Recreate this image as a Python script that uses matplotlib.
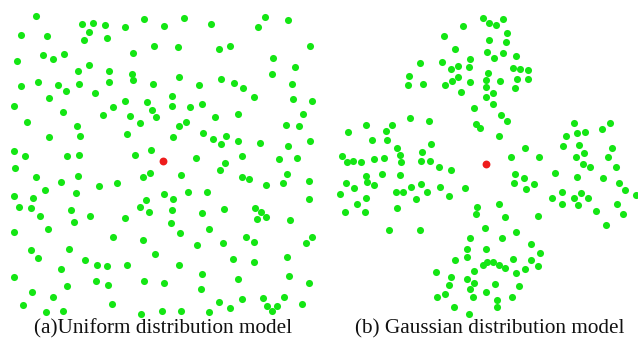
import matplotlib.pyplot as plt

# node positions (image pixels, y downwards)
uniform_x = [36, 82, 93, 105, 125, 144, 164, 21, 47, 89, 84, 107, 154, 133, 17, 43, 53, 64, 89, 78,
             109, 132, 133, 153, 21, 38, 58, 66, 79, 109, 95, 49, 14, 63, 103, 113, 125, 147, 152, 156,
             130, 140, 27, 77, 49, 80, 127, 14, 25, 67, 79, 135, 151,
             184, 211, 258, 265, 288, 178, 219, 230, 310, 273, 295, 179, 221, 234, 243, 199, 272, 292,
             172, 172, 190, 202, 254, 293, 312, 215, 238, 303, 179, 186, 286, 299, 173, 203, 213, 226,
             221, 238, 260, 288, 310, 196, 225, 242, 279, 297,
             15, 36, 61, 78, 99, 117, 143, 150, 45, 76, 14, 33, 164, 146, 19, 31, 71, 140, 149, 40,
             90, 74, 125, 48, 14, 113, 143, 31, 69, 38, 85, 155, 97, 107, 127, 61, 14, 96, 108, 67,
             144, 164, 32, 53, 23, 46, 63, 112, 141, 162,
             220, 181, 242, 249, 287, 283, 266, 309, 173, 188, 207, 309, 172, 202, 224, 255, 261, 266,
             257, 290, 171, 180, 209, 197, 223, 246, 254, 306, 312, 233, 254, 287, 179, 202, 289, 238,
             201, 309, 219, 230, 242, 263, 267, 272, 277, 284, 302, 181, 209]
uniform_y = [16, 24, 23, 25, 27, 19, 26, 35, 36, 32, 40, 38, 46, 53, 61, 55, 59, 54, 65, 71,
             71, 74, 80, 84, 86, 82, 85, 91, 84, 82, 93, 98, 106, 112, 115, 107, 101, 102, 110, 117,
             116, 123, 122, 126, 137, 136, 134, 151, 156, 156, 155, 155, 150,
             18, 24, 27, 17, 20, 47, 49, 46, 46, 58, 67, 77, 79, 83, 88, 85, 74, 84,
             96, 106, 107, 104, 97, 99, 101, 117, 114, 114, 126, 122, 125, 126, 137, 133, 139, 136,
             144, 141, 143, 146, 141, 158, 163, 156, 159, 158,
             168, 177, 182, 176, 186, 183, 177, 173, 190, 193, 196, 198, 194, 200, 207, 208, 210, 207, 212, 216,
             216, 222, 218, 229, 232, 237, 240, 250, 249, 258, 260, 254, 265, 266, 265, 269, 277, 281, 285, 286,
             281, 283, 292, 297, 305, 312, 311, 304, 314, 311,
             170, 175, 177, 179, 174, 183, 185, 181, 199, 192, 192, 199, 210, 213, 209, 208, 212, 217,
             219, 220, 223, 233, 229, 245, 243, 237, 242, 243, 237, 259, 262, 257, 265, 274, 276, 279,
             289, 283, 302, 308, 299, 298, 306, 311, 306, 297, 304, 311, 312]

gauss_x = [483, 463, 444, 455, 420, 442, 451, 458, 470, 469, 409, 408, 423, 445, 452, 458, 470, 461, 474, 476,
           480, 410, 429, 366, 392, 348, 386, 372, 387, 431, 397, 342, 347, 353, 361, 374, 384, 400, 422, 401,
           421, 430,
           489, 496, 503, 507, 489, 506, 487, 494, 503, 516, 513, 520, 528, 488, 486, 500, 517, 528, 486, 493,
           515, 486, 493, 501, 507, 499, 525, 511, 539, 574, 610, 602, 577, 585, 566, 579, 563, 612, 584, 576,
           608, 583,
           439, 451, 366, 382, 400, 346, 367, 374, 354, 340, 396, 403, 411, 421, 427, 440, 465, 366, 416, 449,
           357, 345, 365, 397, 477, 476, 485, 389, 420, 470, 467, 467, 455, 483, 436, 474, 451, 467, 474, 449,
           470, 486, 437, 445, 473, 454, 469,
           515, 524, 514, 526, 534, 555, 577, 590, 603, 616, 619, 625, 636, 562, 552, 562, 574, 581, 578, 588,
           596, 617, 623, 606, 499, 505, 538, 516, 502, 531, 486, 540, 487, 493, 499, 505, 513, 531, 525, 538,
           516, 495, 519, 512, 497, 497]
gauss_y = [18, 26, 36, 49, 63, 62, 69, 66, 59, 67, 76, 85, 84, 85, 81, 77, 82, 92, 108, 124,
           128, 118, 121, 125, 125, 132, 131, 140, 140, 144, 148, 156, 162, 161, 162, 159, 158, 155, 152, 162,
           161, 161,
           23, 25, 19, 33, 40, 42, 52, 58, 53, 56, 68, 69, 70, 73, 80, 81, 79, 79, 87, 93,
           88, 97, 104, 115, 121, 136, 148, 157, 157, 123, 123, 129, 133, 132, 136, 145, 146, 148, 153, 157,
           157, 164,
           167, 170, 176, 174, 175, 183, 182, 185, 188, 194, 192, 192, 187, 184, 192, 187, 188, 198, 199, 196,
           204, 212, 212, 208, 207, 214, 228, 230, 230, 238, 249, 257, 260, 265, 272, 271, 277, 279, 283, 285,
           289, 292, 297, 294, 297, 307, 314,
           174, 178, 183, 189, 184, 173, 177, 167, 178, 167, 183, 190, 195, 192, 198, 204, 198, 193, 205, 198,
           211, 204, 214, 225, 204, 217, 216, 232, 238, 244, 249, 253, 262, 262, 265, 268, 259, 260, 269, 266,
           273, 284, 286, 297, 300, 307]

centre_x = [163, 486]
centre_y = [161, 164]

captions = ["(a)Uniform distribution model", "(b) Gaussian distribution model"]
caption_x = [163, 490]

W, H = 638, 339
fig = plt.figure(figsize=(W / 100, H / 100), dpi=100)
ax = fig.add_axes([0, 0, 1, 1])
ax.set_xlim(0, W)
ax.set_ylim(H, 0)
ax.axis('off')

green = '#14e614'
ax.scatter(uniform_x, uniform_y, s=26, color=green, linewidths=0)
ax.scatter(gauss_x, gauss_y, s=26, color=green, linewidths=0)
ax.scatter(centre_x, centre_y, s=32, color='#ee1c1c', linewidths=0, zorder=3)

for cx, txt in zip(caption_x, captions):
    ax.text(cx, 329, txt, ha='center', va='center', fontsize=15.3,
            family='Liberation Serif', color='#111111')

fig.savefig('out.png', dpi=100)
